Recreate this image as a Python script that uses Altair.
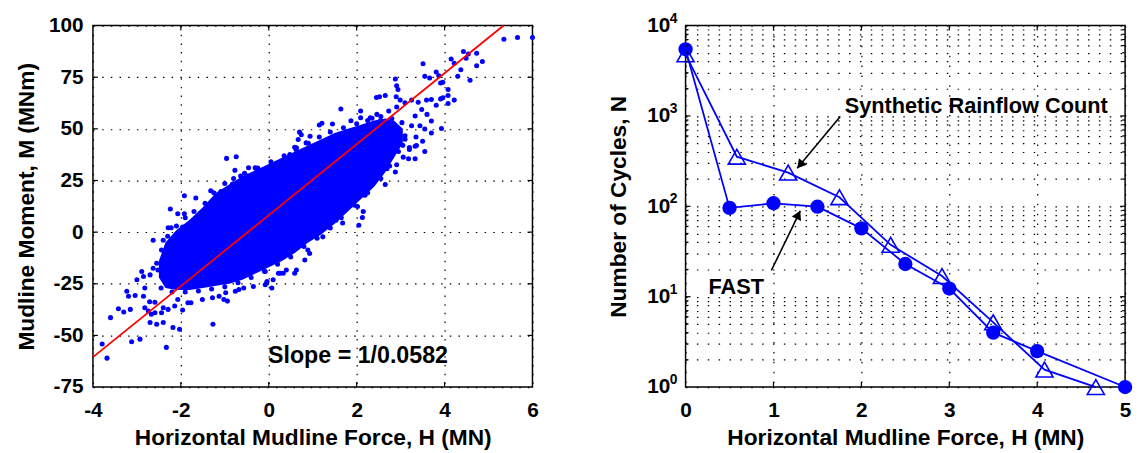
import altair as alt
import pandas as pd

FONT = "Liberation Sans"
BLUE = "#0000ff"
W, H = 445, 366

# ---------------- left panel: scatter of mudline moment vs force ----------------
scatter_h = [5.35, 5.66, 6.0, 3.51, 3.55, 3.66, 3.81, 3.87, 3.96, 3.91, 4.08, 4.08, 4.22, 4.08, 3.96,
             4.43, 4.54, 4.73, 4.86, 4.15, 4.22, 4.49, 4.37, 4.73, 4.58, 4.30,
             2.88, 2.91, 2.94, 2.90, 2.65, 2.52, 2.45, 2.91, 2.99,
             1.64, 1.21, 1.45, 1.87, 2.09, 2.31, 2.46, 2.73,
             3.25, 3.40, 3.59, 3.70, 3.81, 3.91, 3.93, 3.70, 3.55, 3.44,
             3.55, 3.36, 3.33, 3.18, 3.06, 2.65, 2.88, 2.69, 2.91, 2.19, 2.15, 2.13, 2.02,
             0.70, 2.09, 2.35, 2.54, 3.33,
             0.18, -0.27, -0.49, 0.48, 0.63, 0.85, 0.94, 0.74,
             2.05, 1.68, 1.53, 1.23, 0.89, 0.63, 0.40, 0.26, -0.04,
             -0.96, -0.74, -0.77, -0.46, -0.31, -0.64, -0.53, -0.83, -1.09, -1.32, -1.66, -1.92,
             -2.24, -2.07, -1.92, -1.54, -1.73, -1.77, -1.96, -2.22, -2.29, -2.07, -2.14, -2.18,
             -2.40, -2.63, -2.44, -2.25, -2.37, -2.55, -2.52, -2.63, -2.70, -2.89, -2.85, -3.00,
             -2.82, -3.04, -3.23, -3.19, -2.85, 0.59, 0.22, -0.08, 0.10, -0.08, -0.35, -0.57,
             -0.76, -0.98, -1.13, 0.07, 0.67, 0.59, 1.15,
             -2.82, -2.74, -2.67, -2.59, -2.44, -2.40, -2.29, -2.14, -1.96, -3.15, -3.30, -3.42,
             -3.60, -2.70, -2.55, -2.40, -2.18, -2.03, -2.33, -2.93, -3.12, -3.79, -3.68, -1.27,
             -2.71, -2.59, -2.07, -1.84, -1.77, -1.51, -1.28, -1.02, -0.94, -0.68, -0.05, 0.33,
             0.82, 0.93,
             # fuzzy upper edge of the dense cloud
             -2.3, -2.1, -1.9, -1.7, -1.45, -1.25, -1.0, -0.8, -0.55, -0.25, 0.05, 0.35, 0.62,
             0.9, 1.15, 1.4, 1.7, 2.0, 2.25, 2.55, 2.8,
             # fuzzy lower edge of the dense cloud
             -2.45, -2.2, -1.9, -1.6, -1.3, -1.0, -0.7, -0.4, -0.1, 0.2, 0.5, 0.8, 1.1, 1.4,
             1.65, 1.95, 2.25, 2.55, 2.75, 2.95, 3.1,
             # scatter right of the dense cloud
             3.10, 3.25, 3.03, 3.33, 3.48, 3.10, 2.75, 2.95, 3.2, 3.6, 3.35, 3.5, 3.7, 3.2, 3.05]
scatter_m = [93.4, 94.2, 94.2, 81.5, 75.4, 74.6, 77.5, 75.7, 72.5, 72.2, 69.0, 66.1, 63.9, 62.3, 65.0,
             87.4, 86.2, 86.6, 82.6, 83.8, 81.8, 84.2, 78.6, 80.5, 73.5, 75.4,
             74.1, 70.9, 69.0, 65.5, 66.1, 65.5, 65.2, 60.6, 63.9,
             59.6, 52.7, 52.3, 53.9, 58.6, 55.4, 57.0, 58.6,
             63.9, 62.9, 63.9, 64.2, 61.4, 64.5, 50.2, 53.8, 49.9, 51.5,
             39.0, 41.9, 35.5, 35.5, 36.3, 23.1, 29.1, 30.7, 32.6, 17.9, 10.0, 7.1, 12.4,
             48.4, 55.4, 55.1, 53.9, 41.6,
             31.2, 29.6, 27.2, 37.6, 40.8, 43.2, 46.4, 47.1,
             3.3, 4.4, 5.7, -2.3, -8.7, -18.3, -18.3, -19.9, -23.9,
             35.7, 36.5, 29.9, 31.2, 31.2, 27.2, 24.0, 23.2, 19.7, 20.0, 16.5, 17.6,
             11.2, 8.9, 8.9, 8.9, 5.3, 1.7, 2.5, 2.1, 2.1, -1.5, -2.3, -3.9,
             -3.9, -3.9, -8.7, -7.9, -13.5, -15.1, -18.3, -17.5, -20.7, -19.1, -21.5, -23.1,
             -27.1, -30.7, -28.6, -31.0, -31.0, -19.9, -19.9, -19.1, -23.1, -25.5, -26.3, -27.1,
             -28.6, -29.4, -31.0, -27.1, 44.8, 41.1, 51.9,
             -36.6, -38.2, -39.8, -39.0, -39.0, -36.6, -37.4, -35.8, -37.7, -37.4, -38.7, -37.1,
             -41.4, -43.8, -44.6, -43.8, -46.2, -47.0, -55.8, -51.8, -53.1, -54.2, -61.0, -44.6,
             -33.7, -33.9, -32.6, -34.2, -34.2, -32.6, -31.8, -32.6, -33.4, -27.8, -24.7, -19.9,
             -13.5, -10.3,
             -2.0, 3.0, 7.0, 10.0, 14.0, 19.0, 23.5, 26.0, 28.5, 31.0, 34.0, 37.0, 40.0,
             43.0, 46.0, 48.5, 50.5, 52.5, 54.0, 56.0, 55.0,
             -27.0, -29.0, -29.0, -28.5, -27.5, -26.5, -24.5, -22.0, -19.0, -15.5, -12.0, -7.0, -3.0, 2.0,
             7.0, 13.0, 19.0, 26.0, 32.0, 39.0, 45.0,
             46.7, 51.5, 53.0, 56.2, 59.4, 62.6, 45.0, 47.0, 41.0, 57.0, 46.0, 44.0, 48.0, 40.0, 42.0]

# dense core of the cloud: lower / upper edge of the solid region
core_h = [-2.5, -2.35, -2.1, -1.8, -1.5, -1.2, -0.9, -0.6, -0.3, 0.0, 0.3, 0.6, 0.9, 1.2,
          1.5, 1.8, 2.1, 2.4, 2.65, 2.85, 3.05]
core_lo = [-22, -27, -28, -28, -27, -26, -25, -23, -20, -17, -14, -10, -5, -1,
           4, 10, 16, 22, 29, 36, 43]
core_hi = [-14, -5, 1, 6, 12, 19, 23, 27, 30, 33, 36, 39, 42, 45,
           48, 50, 52, 54, 55, 54, 50]

fit_slope = 1 / 0.0582
fit_intercept = 8.2
fit_h = [-4.0, 5.343]
fit_m = [fit_slope * h + fit_intercept for h in fit_h]

left_xticks = [-4, -2, 0, 2, 4, 6]
left_yticks = [-75, -50, -25, 0, 25, 50, 75, 100]
slope_label = ["Slope = 1/0.0582"]
slope_h = [2.03]
slope_m = [-60.0]

# ---------------- right panel: cycle counts ----------------
fast_h = [0.0, 0.5, 1.0, 1.5, 2.0, 2.5, 3.0, 3.5, 4.0, 5.0]
fast_n = [5460, 96, 108, 99, 57, 23, 12.3, 4.0, 2.5, 1.0]
rain_h = [0.0, 0.583, 1.167, 1.75, 2.333, 2.917, 3.5, 4.083, 4.667]
rain_n = [4800, 354, 236, 126, 37.5, 16.9, 5.2, 1.56, 1.0]

right_xticks = [0, 1, 2, 3, 4, 5]
right_decades = [1, 10, 100, 1000, 10000]
right_exponents = ["0", "1", "2", "3", "4"]
right_minor = [m * 10 ** k for k in range(4) for m in range(2, 10)]

ann_text = ["Synthetic Rainflow Count", "FAST"]
ann_h = [1.81, 0.26]
ann_n = [1282, 12.9]
arrow_h0 = [1.76, 0.976]
arrow_n0 = [988, 19.5]
arrow_h1 = [1.27, 1.305]
arrow_n1 = [263, 89]
arrow_angle = [219.7, 25.9]
arrow_offx = [2.9, -2.0]
arrow_offy = [-3.5, 4.0]

# ---------------- scales / axes (same spec in every layer so they merge) ----------------
lxs = alt.Scale(domain=[-4, 6], nice=False, zero=False)
lys = alt.Scale(domain=[-75, 100], nice=False, zero=False)
lxax = alt.Axis(values=left_xticks, grid=True, labelExpr="datum.value + ''",
                labelPadding=13, titlePadding=6, gridDash=[1.5, 7.3])
lyax = alt.Axis(values=left_yticks, grid=True, labelExpr="datum.value + ''",
                labelPadding=10, titlePadding=10, gridDash=[1.5, 7.3])
LXT = "Horizontal Mudline Force, H (MN)"
LYT = "Mudline Moment, M (MNm)"


def LX(f):
    return alt.X(f, scale=lxs, axis=lxax, title=LXT)


def LY(f):
    return alt.Y(f, scale=lys, axis=lyax, title=LYT)


rxs = alt.Scale(domain=[0, 5], nice=False, zero=False)
rys = alt.Scale(type="log", domain=[1, 10000], nice=False)
rxax = alt.Axis(values=right_xticks, grid=True, labelExpr="datum.value + ''",
                labelPadding=13, titlePadding=6, gridDash=[1.5, 8.5])
ryax = alt.Axis(values=right_decades + right_minor, grid=True,
                labelExpr="indexof([1, 10, 100, 1000, 10000], datum.value) >= 0 ? '10' : ''",
                labelPadding=16, titlePadding=16, gridDash=[1.5, 9.5])
RXT = "Horizontal Mudline Force, H (MN)"
RYT = "Number of Cycles, N"


def RX(f):
    return alt.X(f, scale=rxs, axis=rxax, title=RXT)


def RY(f):
    return alt.Y(f, scale=rys, axis=ryax, title=RYT)


tick_style = dict(color="black", strokeWidth=1.2)

# ---------------- left chart ----------------
core_df = pd.DataFrame({"H": core_h, "lo": core_lo, "hi": core_hi})
sc_df = pd.DataFrame({"H": scatter_h, "M": scatter_m})
fit_df = pd.DataFrame({"H": fit_h, "M": fit_m})

core = alt.Chart(core_df).mark_area(color=BLUE, opacity=1, interpolate="linear").encode(
    x=LX("H:Q"), y=LY("lo:Q"), y2="hi:Q")
dots = alt.Chart(sc_df).mark_circle(color=BLUE, opacity=1, size=26).encode(x=LX("H:Q"), y=LY("M:Q"))
fit = alt.Chart(fit_df).mark_line(color="#ff0000", strokeWidth=1.8).encode(x=LX("H:Q"), y=LY("M:Q"))
slope_txt = alt.Chart(pd.DataFrame({"t": slope_label, "H": slope_h, "M": slope_m})).mark_text(
    font=FONT, fontSize=23.5, fontWeight="bold", color="black", align="center", baseline="middle"
).encode(x=LX("H:Q"), y=LY("M:Q"), text="t:N")

lxt = pd.DataFrame({"H": left_xticks[1:-1]})
lyt = pd.DataFrame({"M": left_yticks[1:-1]})
lticks = [
    alt.Chart(lxt).mark_rule(**tick_style).encode(x=LX("H:Q"), y=alt.value(H), y2=alt.value(H - 5)),
    alt.Chart(lxt).mark_rule(**tick_style).encode(x=LX("H:Q"), y=alt.value(0), y2=alt.value(5)),
    alt.Chart(lyt).mark_rule(**tick_style).encode(y=LY("M:Q"), x=alt.value(0), x2=alt.value(5)),
    alt.Chart(lyt).mark_rule(**tick_style).encode(y=LY("M:Q"), x=alt.value(W), x2=alt.value(W - 5)),
]
left = alt.layer(core, dots, fit, slope_txt, *lticks).properties(width=W, height=H)

# ---------------- right chart ----------------
fast_df = pd.DataFrame({"H": fast_h, "N": fast_n})
rain_df = pd.DataFrame({"H": rain_h, "N": rain_n})

fast_line = alt.Chart(fast_df).mark_line(color=BLUE, strokeWidth=1.8).encode(x=RX("H:Q"), y=RY("N:Q"))
rain_line = alt.Chart(rain_df).mark_line(color=BLUE, strokeWidth=1.8).encode(x=RX("H:Q"), y=RY("N:Q"))
fast_pts = alt.Chart(fast_df).mark_point(shape="circle", filled=True, color=BLUE, opacity=1,
                                         size=210).encode(x=RX("H:Q"), y=RY("N:Q"))
rain_pts = alt.Chart(rain_df).mark_point(shape="triangle-up", filled=False, color=BLUE, opacity=1,
                                         size=300, strokeWidth=1.6).encode(x=RX("H:Q"), y=RY("N:Q"))

ann_df = pd.DataFrame({"t": ann_text, "H": ann_h, "N": ann_n})
ann = alt.Chart(ann_df).mark_text(font=FONT, fontSize=22, fontWeight="bold", color="black",
                                  align="left", baseline="middle").encode(
    x=RX("H:Q"), y=RY("N:Q"), text="t:N")

arr_df = pd.DataFrame({"H": arrow_h0, "N": arrow_n0, "H1": arrow_h1, "N1": arrow_n1})
shafts = alt.Chart(arr_df).mark_rule(color="black", strokeWidth=1.6).encode(
    x=RX("H:Q"), y=RY("N:Q"), x2="H1:Q", y2="N1:Q")
heads = []
for i in range(len(arrow_h1)):
    hd = pd.DataFrame({"H": [arrow_h1[i]], "N": [arrow_n1[i]]})
    heads.append(alt.Chart(hd).mark_point(shape="triangle-up", filled=True, color="black", opacity=1,
                                          size=110, angle=arrow_angle[i],
                                          xOffset=arrow_offx[i], yOffset=arrow_offy[i]).encode(
        x=RX("H:Q"), y=RY("N:Q")))

exp_df = pd.DataFrame({"N": right_decades, "e": right_exponents})
exps = alt.Chart(exp_df).mark_text(font=FONT, fontSize=14, fontWeight="bold", color="black",
                                   align="left", baseline="middle", dx=-16, dy=-7).encode(
    x=alt.value(0), y=RY("N:Q"), text="e:N")

rxt = pd.DataFrame({"H": right_xticks[1:-1]})
ryt = pd.DataFrame({"N": right_decades[1:-1]})
rym = pd.DataFrame({"N": right_minor})
rticks = [
    alt.Chart(rxt).mark_rule(**tick_style).encode(x=RX("H:Q"), y=alt.value(H), y2=alt.value(H - 5)),
    alt.Chart(rxt).mark_rule(**tick_style).encode(x=RX("H:Q"), y=alt.value(0), y2=alt.value(5)),
    alt.Chart(ryt).mark_rule(**tick_style).encode(y=RY("N:Q"), x=alt.value(0), x2=alt.value(5)),
    alt.Chart(ryt).mark_rule(**tick_style).encode(y=RY("N:Q"), x=alt.value(W), x2=alt.value(W - 5)),
    alt.Chart(rym).mark_rule(**tick_style).encode(y=RY("N:Q"), x=alt.value(0), x2=alt.value(3)),
    alt.Chart(rym).mark_rule(**tick_style).encode(y=RY("N:Q"), x=alt.value(W), x2=alt.value(W - 3)),
]

right = alt.layer(fast_line, rain_line, fast_pts, rain_pts, shafts, *heads, ann, exps, *rticks).properties(
    width=W, height=H)

chart = alt.hconcat(left, right, spacing=68).properties(
    padding={"left": 7, "top": 0, "right": 0, "bottom": 0}
).configure_view(stroke="black", strokeWidth=1.5).configure_axis(
    labelFont=FONT, titleFont=FONT, labelFontSize=21, titleFontSize=23,
    labelFontWeight="bold", titleFontWeight="bold", labelColor="black", titleColor="black",
    gridColor="black", gridWidth=1.2, gridOpacity=1,
    ticks=False, domain=False, labelFlush=False, labelOverlap=False,
)

chart.save("out.html", embed_options={"renderer": "svg", "actions": False})
